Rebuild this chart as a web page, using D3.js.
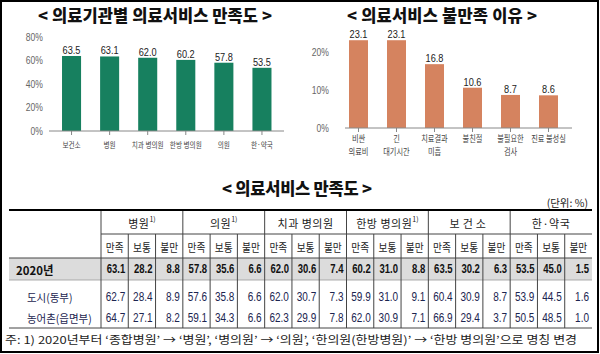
<!DOCTYPE html>
<html><head><meta charset="utf-8">
<script src="https://cdn.jsdelivr.net/npm/d3@7"></script>
<style>
html,body{margin:0;padding:0;background:#fff;}
svg{display:block;}
</style></head>
<body>
<svg id="c" width="600" height="354"></svg>
<script>
// ---- data ----
const instCats = ["보건소","병원","치과 병의원","한방 병의원","의원","한·약국"];
const instValues = [63.5,63.1,62.0,60.2,57.8,53.5];
const instTicks = [0,20,40,60,80];

const reasonCats = [["비싼","의료비"],["긴","대기시간"],["치료결과","미흡"],["불친절"],["불필요한","검사"],["진료 불성실"]];
const reasonValues = [23.1,23.1,16.8,10.6,8.7,8.6];
const reasonTicks = [0,10,20];

const groups = ["병원","의원","치과 병의원","한방 병의원","보건소","한·약국"];
const groupNote = [true,true,false,true,false,false];
const subCols = ["만족","보통","불만"];
const rowLabels = ["2020년","도시(동부)","농어촌(읍면부)"];
const row2020 = [63.1,28.2,8.8,57.8,35.6,6.6,62.0,30.6,7.4,60.2,31.0,8.8,63.5,30.2,6.3,53.5,45.0,1.5];
const rowCity = [62.7,28.4,8.9,57.6,35.8,6.6,62.0,30.7,7.3,59.9,31.0,9.1,60.4,30.9,8.7,53.9,44.5,1.6];
const rowRural = [64.7,27.1,8.2,59.1,34.3,6.6,62.3,29.9,7.8,62.0,30.9,7.1,66.9,29.4,3.7,50.5,48.5,1.0];
const tableRows = [row2020,rowCity,rowRural];

const KR = "'Noto Sans CJK KR', 'Noto Sans', sans-serif";
const NUM = "'Liberation Sans', Arial, sans-serif";

function condense(sel,f){
  sel.each(function(){
    const L = this.getComputedTextLength();
    d3.select(this).attr("textLength",L*f).attr("lengthAdjust","spacingAndGlyphs");
  });
}

const svg = d3.select("#c");
svg.append("rect").attr("x",1).attr("y",1).attr("width",597).attr("height",351)
  .attr("fill","#fff").attr("stroke","#000").attr("stroke-width",2);

function title(x,y,txt,len){
  svg.append("text").attr("x",x).attr("y",y).attr("text-anchor","middle")
    .attr("dominant-baseline","central")
    .attr("font-family",KR).attr("font-weight",900).attr("font-size",16.5)
    .attr("fill","#111").attr("textLength",len).text(txt);
}
title(155,15,"< 의료기관별 의료서비스 만족도 >",234);
title(442,15,"< 의료서비스 불만족 이유 >",190);
title(297,188,"< 의료서비스 만족도 >",150);

function barChart(opt){
  const g = svg.append("g");
  const x = d3.scaleBand().domain(d3.range(opt.values.length)).range(opt.xr).paddingInner(0.5).paddingOuter(0.25);
  const y = d3.scaleLinear().domain(opt.yd).range(opt.yr);
  const ax = g.append("g").attr("transform",`translate(${opt.yAxisX},0)`)
    .call(d3.axisLeft(y).tickValues(opt.ticks).tickSize(0).tickPadding(3).tickFormat(d=>d+"%"));
  ax.select(".domain").remove();
  ax.selectAll("text").attr("font-family",NUM).attr("font-size",11).attr("fill","#666");
  condense(ax.selectAll("text"),0.78);
  g.selectAll("rect.bar").data(opt.values).join("rect").attr("class","bar")
    .attr("x",(d,i)=>x(i)).attr("width",x.bandwidth())
    .attr("y",d=>y(d)).attr("height",d=>y(0)-y(d)).attr("fill",opt.color);
  const vl = g.selectAll("text.val").data(opt.values).join("text").attr("class","val")
    .attr("x",(d,i)=>x(i)+x.bandwidth()/2).attr("y",d=>y(d)-2)
    .attr("text-anchor","middle").attr("font-family",NUM).attr("font-size",11.5).attr("fill","#222")
    .text(d=>d.toFixed(1));
  condense(vl,0.8);
  g.append("line").attr("x1",opt.axisX[0]).attr("x2",opt.axisX[1]).attr("y1",y(0)).attr("y2",y(0))
    .attr("stroke","#888").attr("stroke-width",1);
  g.selectAll("line.tk").data(opt.values).join("line").attr("class","tk")
    .attr("x1",(d,i)=>x(i)+x.bandwidth()/2).attr("x2",(d,i)=>x(i)+x.bandwidth()/2)
    .attr("y1",y(0)).attr("y2",y(0)+4).attr("stroke","#888");
  opt.cats.forEach((d,i)=>{
    const lines = Array.isArray(d)?d:[d];
    lines.forEach((l,j)=>{
      const t = g.append("text").attr("x",x(i)+x.bandwidth()/2).attr("y",y(0)+opt.labDy+j*opt.lineH)
        .attr("text-anchor","middle").attr("font-family",KR).attr("font-size",opt.labFs).attr("fill","#444")
        .text(l);
      condense(t,opt.labF);
    });
  });
}
barChart({values:instValues,cats:instCats,xr:[52.5,281],yd:[0,80],yr:[131,36.5],ticks:instTicks,
  yAxisX:46,color:"#17805f",axisX:[49,284],labDy:16.5,labFs:8.5,labF:0.78,lineH:12});
barChart({values:reasonValues,cats:reasonCats,xr:[339.5,567.5],yd:[0,25],yr:[128,33],ticks:reasonTicks,
  yAxisX:332,color:"#d5835f",axisX:[345,572],labDy:14,labFs:9,labF:0.8,lineH:13});

// ---- table ----
const tx0 = 9, tLab = 101, tx1 = 592;
const xc = d3.scaleBand().domain(d3.range(18)).range([tLab,tx1]);
const gw = xc.step()*3;
const rowTop = [258,280,306], rowBot = 328;
const rowMid = [269,296.5,318];
const T = svg.append("g");
T.append("text").attr("x",588).attr("y",202).attr("text-anchor","end").attr("dominant-baseline","central")
  .attr("font-family",KR).attr("font-size",10.5).attr("fill","#222").text("(단위: %)");
T.append("rect").attr("x",tx0).attr("y",rowTop[0]).attr("width",tx1-tx0).attr("height",rowTop[1]-rowTop[0]).attr("fill","#dcdcdc");
const ln = (x1,y1,x2,y2,w,c)=>T.append("line").attr("x1",x1).attr("y1",y1).attr("x2",x2).attr("y2",y2)
  .attr("stroke",c||"#444").attr("stroke-width",w||1);
ln(tx0,210,tx1,210,2,"#000");
ln(tLab,234,tx1,234);
ln(tx0,258,tx1,258);
ln(tx0,280,tx1,280,0.8,"#999");
ln(tx0,rowBot,tx1,rowBot);
d3.range(18).forEach(i=>{
  ln(xc(i), i%3===0?211:234, xc(i), rowBot);
});
groups.forEach((gname,i)=>{
  const t = T.append("text").attr("x",tLab+gw*i+gw/2).attr("y",223).attr("text-anchor","middle")
    .attr("dominant-baseline","central").attr("font-family",KR).attr("font-size",11).attr("fill","#222")
    .attr("letter-spacing", gname==="보건소"?3:0.5);
  t.append("tspan").text(gname);
  if(groupNote[i]) t.append("tspan").attr("font-size",7).attr("dy",-4).attr("letter-spacing",0).text("1)");
});
d3.range(18).forEach(i=>{
  const t = T.append("text").attr("x",xc(i)+xc.bandwidth()/2).attr("y",247).attr("text-anchor","middle")
    .attr("dominant-baseline","central").attr("font-family",KR).attr("font-size",11).attr("fill","#222")
    .text(subCols[i%3]);
  condense(t,0.88);
});
rowLabels.forEach((r,k)=>{
  const t = T.append("text").attr("x",k===0?16:27).attr("y",rowMid[k]).attr("dominant-baseline","central")
    .attr("font-family",KR).attr("font-size",k===0?12:11).attr("font-weight",k===0?700:400)
    .attr("fill",k===0?"#111":"#1c2550").text(r);
  condense(t,0.95);
  const nums = T.selectAll(null).data(tableRows[k]).join("text")
    .attr("x",(d,i)=>xc(i)+xc.bandwidth()-3).attr("y",rowMid[k]).attr("text-anchor","end")
    .attr("dominant-baseline","central").attr("font-family",NUM).attr("font-size",12.5)
    .attr("font-weight",k===0?700:400).attr("fill",k===0?"#111":"#1c2550")
    .text(d=>d.toFixed(1));
  condense(nums,k===0?0.76:0.8);
});
T.append("text").attr("x",5).attr("y",339).attr("dominant-baseline","central")
  .attr("font-family",KR).attr("font-size",11).attr("fill","#222").attr("textLength",572)
  .attr("lengthAdjust","spacingAndGlyphs")
  .text("주: 1) 2020년부터 ‘종합병원’ → ‘병원’, ‘병의원’ → ‘의원’, ‘한의원(한방병원)’ → ‘한방 병의원’으로 명칭 변경");
</script>
</body></html>
